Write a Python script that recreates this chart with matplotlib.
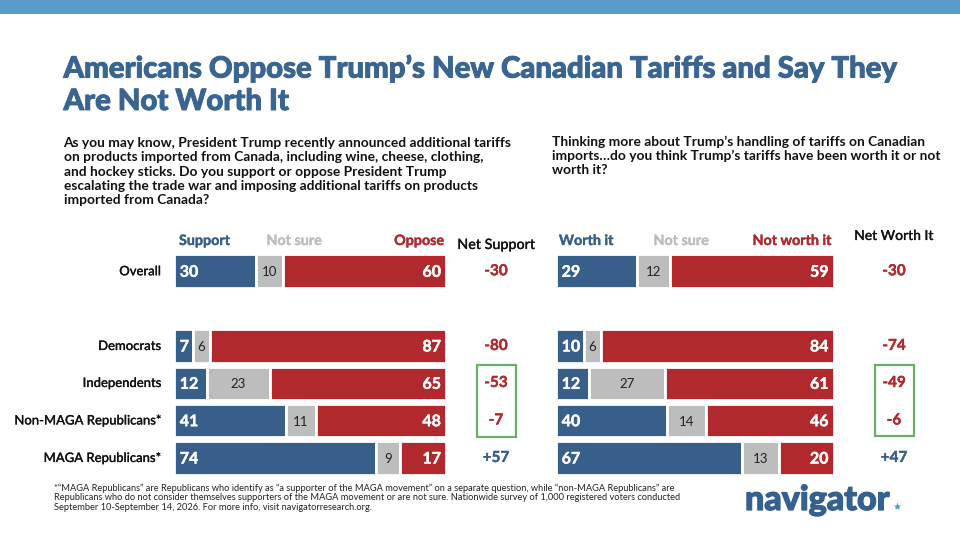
import matplotlib
matplotlib.use("Agg")
import matplotlib.pyplot as plt
import matplotlib.patheffects as pe
from matplotlib.patches import Rectangle

plt.rcParams['font.family'] = ['Lato', 'DejaVu Sans']

W, H = 960, 540
BLUE, GREY, RED = '#375F8A', '#BDBDBD', '#B1282D'
TITLE_BLUE = '#3B6591'
GREEN = '#6DAE66'

groups = ['Overall', 'Democrats', 'Independents', 'Non-MAGA Republicans*', 'MAGA Republicans*']
row_pos = [0, 2, 3, 4, 5]

support = [30, 7, 12, 41, 74]
support_unsure = [10, 6, 23, 11, 9]
oppose = [60, 87, 65, 48, 17]
net_support = ['-30', '-80', '-53', '-7', '+57']

worth = [29, 10, 12, 40, 67]
worth_unsure = [12, 6, 27, 14, 13]
not_worth = [59, 84, 61, 46, 20]
net_worth = ['-30', '-74', '-49', '-6', '+47']

title = "Americans Oppose Trump\u2019s New Canadian Tariffs and Say They\nAre Not Worth It"
q_left = ("As you may know, President Trump recently announced additional tariffs\n"
          "on products imported from Canada, including wine, cheese, clothing,\n"
          "and hockey sticks. Do you support or oppose President Trump\n"
          "escalating the trade war and imposing additional tariffs on products\n"
          "imported from Canada?")
q_right = ("Thinking more about Trump\u2019s handling of tariffs on Canadian\n"
           "imports\u2026do you think Trump\u2019s tariffs have been worth it or not\n"
           "worth it?")
footnote = ("*\u201cMAGA Republicans\u201d are Republicans who identify as \u201ca supporter of the MAGA movement\u201d on a separate question, while \u201cnon-MAGA Republicans\u201d are\n"
            "Republicans who do not consider themselves supporters of the MAGA movement or are not sure. Nationwide survey of 1,000 registered voters conducted\n"
            "September 10-September 14, 2026. For more info, visit navigatorresearch.org.")


def thick(w, col):
    return [pe.withStroke(linewidth=w, foreground=col)]


fig = plt.figure(figsize=(W / 100, H / 100), dpi=100, facecolor='white')
bg = fig.add_axes([0, 0, 1, 1])
bg.set_xlim(0, W)
bg.set_ylim(H, 0)
bg.axis('off')
bg.add_patch(Rectangle((0, 0), W, 14, color='#5B9BCB', lw=0))

TOP, BOTTOM = 252.6, 476.7


def panel(x0, x1, a, b, c):
    ax = fig.add_axes([x0 / W, 1 - BOTTOM / H, (x1 - x0) / W, (BOTTOM - TOP) / H])
    ax.set_xlim(0, 100)
    ax.set_ylim(5.5, -0.5)
    ax.axis('off')
    ax.barh(row_pos, a, height=0.9, color=BLUE, edgecolor='white', lw=2)
    ax.barh(row_pos, b, left=a, height=0.9, color=GREY, edgecolor='white', lw=2)
    left = [p + q for p, q in zip(a, b)]
    ax.barh(row_pos, c, left=left, height=0.9, color=RED, edgecolor='white', lw=2)
    for y, p, q, r in zip(row_pos, a, b, c):
        ax.text(2, y, str(p), color='white', weight='bold', fontsize=11.5, ha='left', va='center_baseline',
                path_effects=thick(0.3, 'white'))
        ax.text(p + q / 2, y, str(q), color='#222222', fontsize=9.5, ha='center', va='center_baseline')
        ax.text(98, y, str(r), color='white', weight='bold', fontsize=11.5, ha='right', va='center_baseline',
                path_effects=thick(0.3, 'white'))


panel(174.3, 446.4, support, support_unsure, oppose)
panel(556.1, 834.1, worth, worth_unsure, not_worth)

for line, y in zip(title.split('\n'), [69, 102]):
    bg.text(63.5, y, line, color=TITLE_BLUE, weight='black', fontsize=21.1, va='center',
            path_effects=thick(0.7, TITLE_BLUE))
bg.text(63.5, 171.5, q_left, color='#111111', weight='bold', fontsize=9.95, va='center', linespacing=1.21)
bg.text(552.5, 156, q_right, color='#111111', weight='bold', fontsize=9.95, va='center', linespacing=1.21)

for txt, x, ha, col in [('Support', 179, 'left', BLUE), ('Not sure', 294, 'center', GREY), ('Oppose', 444, 'right', RED),
                        ('Worth it', 559, 'left', BLUE), ('Not sure', 681, 'center', GREY), ('Not worth it', 831, 'right', RED)]:
    bg.text(x, 241, txt, color=col, weight='bold', fontsize=10.3, ha=ha, va='center',
            path_effects=thick(0.25, col))
bg.text(496, 245, 'Net Support', color='#111111', weight='medium', fontsize=10.3, ha='center', va='center',
        path_effects=thick(0.15, '#111111'))
bg.text(894, 236, 'Net Worth It', color='#111111', weight='medium', fontsize=10, ha='center', va='center',
        path_effects=thick(0.15, '#111111'))

centers = [271.3, 346, 383, 420.5, 458]
for g, yc, n1, n2 in zip(groups, centers, net_support, net_worth):
    bg.text(161, yc, g, color='#111111', weight='medium', fontsize=9.4, ha='right', va='center',
            path_effects=thick(0.15, '#111111'))
    c1 = BLUE if n1[0] == '+' else RED
    c2 = BLUE if n2[0] == '+' else RED
    bg.text(496, yc, n1, color=c1, weight='bold', fontsize=11, ha='center', va='center', path_effects=thick(0.25, c1))
    bg.text(894, yc, n2, color=c2, weight='bold', fontsize=11, ha='center', va='center', path_effects=thick(0.25, c2))

bg.add_patch(Rectangle((476.5, 365), 39.5, 72, fill=False, ec=GREEN, lw=1.6))
bg.add_patch(Rectangle((874.5, 364.5), 39.5, 71.5, fill=False, ec=GREEN, lw=1.6))

bg.text(54, 497.5, footnote, color='#222222', fontsize=6.65, va='center', linespacing=1.08)
bg.text(745, 500, 'navigator', color='#34618F', weight='black', fontsize=24.5, va='center',
        path_effects=thick(0.9, '#34618F'))
bg.plot([897], [505.5], marker='*', ms=6, color='#5B9BCB', mec='none')

fig.savefig('out.png', dpi=100, facecolor='white')
